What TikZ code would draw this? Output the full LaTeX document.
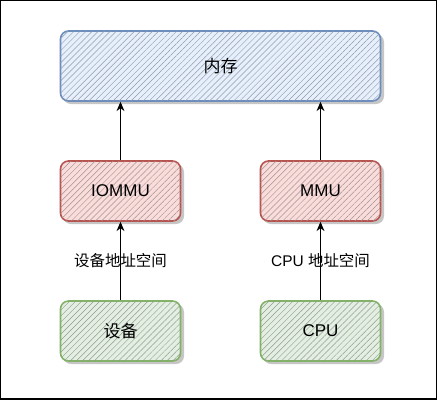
\documentclass[tikz,border=0pt]{standalone}
\usepackage{fontspec}
\setmainfont{Liberation Sans}
\newfontfamily\cjk{Noto Sans CJK SC}
\usetikzlibrary{patterns.meta,arrows.meta}
\definecolor{bfill}{HTML}{DAE8FC}\definecolor{bdraw}{HTML}{6C8EBF}
\definecolor{rfill}{HTML}{F8CECC}\definecolor{rdraw}{HTML}{B85450}
\definecolor{gfill}{HTML}{D5E8D4}\definecolor{gdraw}{HTML}{82B366}
\tikzset{
  sbox/.style n args={2}{draw=#2, line width=1.2pt, rounded corners=6pt,
     fill=#1!70!white,
     postaction={pattern={Lines[angle=45,distance=3.2pt,line width=0.35pt]},pattern color=gray!75!#1},
     minimum width=90pt, minimum height=45pt, inner sep=0pt,
     font=\fontsize{12.75}{15}\selectfont},
  shadowbox/.style={fill=gray!45, rounded corners=6pt, draw=none},
  lbl/.style={font=\fontsize{11.6}{14}\selectfont, inner sep=0pt},
  arr/.style={-{Stealth[length=7pt,width=6pt]}, line width=0.7pt, black}
}
\begin{document}
\begin{tikzpicture}[x=0.75pt,y=-0.75pt]
\useasboundingbox (0,0) rectangle (441,401);
\draw[line width=1pt] (0.5,0.5) rectangle (436.5,399);
% shadows
\fill[shadowbox] (63,34) rectangle (384,104);
\fill[shadowbox] (63,164) rectangle (184,224);
\fill[shadowbox] (263,164) rectangle (384,224);
\fill[shadowbox] (63,304) rectangle (184,364);
\fill[shadowbox] (263,304) rectangle (384,364);
% boxes
\node[sbox={bfill}{bdraw}, minimum width=240pt, minimum height=52.5pt] (mem) at (220.5,66) {\cjk 内存};
\node[sbox={rfill}{rdraw}] (iommu) at (120.5,191) {IOMMU};
\node[sbox={rfill}{rdraw}] (mmu) at (320.5,191) {MMU};
\node[sbox={gfill}{gdraw}] (dev) at (120.5,331) {\cjk 设备};
\node[sbox={gfill}{gdraw}] (cpu) at (320.5,331) {CPU};
% arrows
\draw[arr] (iommu.north) -- (iommu.north |- mem.south);
\draw[arr] (mmu.north) -- (mmu.north |- mem.south);
\draw[arr] (dev.north) -- (iommu.south) node[lbl, pos=0.5] {\cjk 设备地址空间};
\draw[arr] (cpu.north) -- (mmu.south) node[lbl, pos=0.5] {CPU {\cjk 地址空间}};
\end{tikzpicture}
\end{document}
